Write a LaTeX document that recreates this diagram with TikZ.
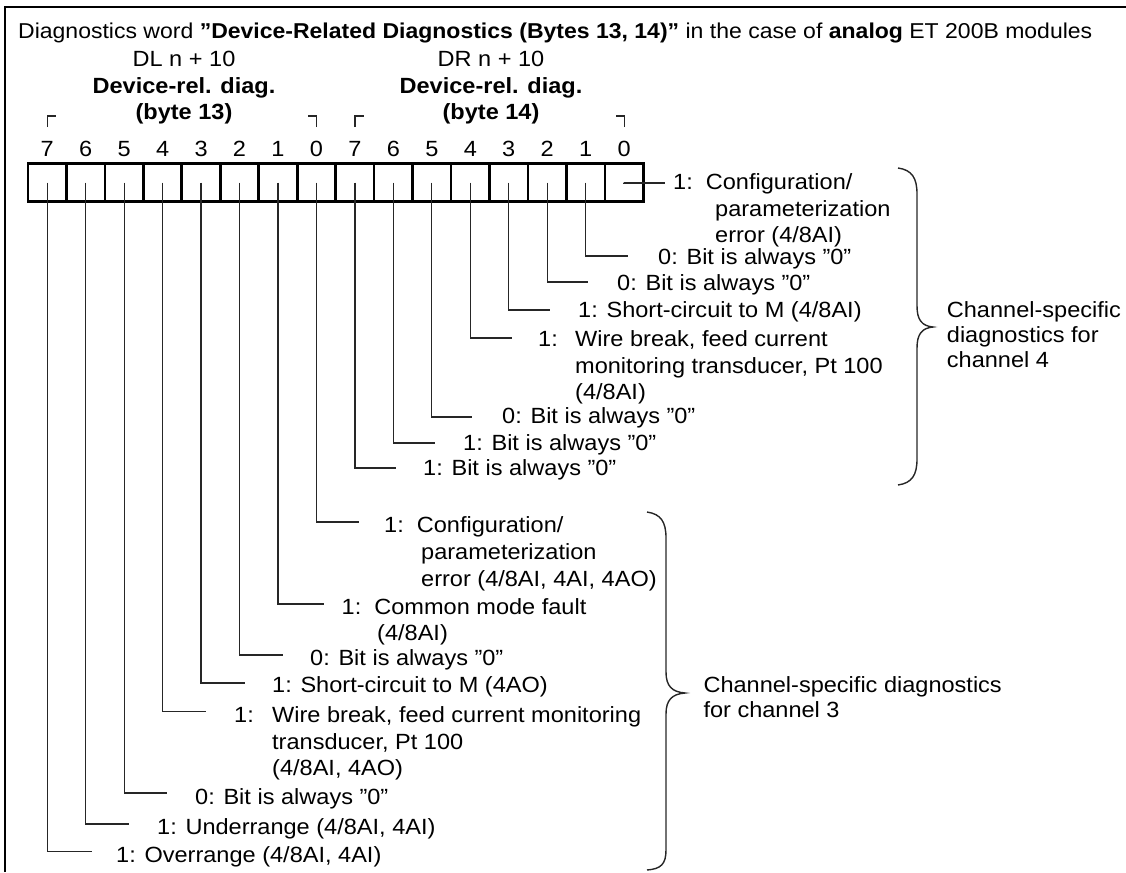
\documentclass[tikz,border=0pt]{standalone}
\usepackage{fontspec}
\setmainfont{Liberation Sans}[FakeStretch=1.07]
\begin{document}
\begin{tikzpicture}[x=1pt,y=-1pt,
  font=\fontsize{22}{26.5}\selectfont,
  bitbox/.style={draw, line width=2.7pt, minimum width=38.46pt, minimum height=38.4pt, inner sep=0pt, outer sep=0pt},
  conn/.style={line width=1.3pt, draw=black!85},
  cornerln/.style={line width=1.3pt, draw=black!85},
  bracepath/.style={line width=1.4pt, draw=black!85},
  lbl/.style={anchor=base west, inner sep=0pt},
  hdr/.style={anchor=base, inner sep=0pt},
  hdrb/.style={anchor=base, inner sep=0pt, font=\fontsize{22}{26.5}\selectfont\bfseries}
]
\useasboundingbox (0,0) rectangle (1126,872);
% frame
\draw[line width=2pt] (5,872) -- (5,7) -- (1126,7);
% title
\node[lbl, font=\fontsize{21.5}{26.5}\selectfont] (title) at (18,38.3) {Diagnostics word \textbf{”Device-Related Diagnostics (Bytes 13, 14)”} in the case of \textbf{analog} ET 200B modules};
% byte headers
\node[hdr]  (dl)  at (184,67)  {DL n + 10};
\node[hdrb] (dl2) at (184,94)  {Device-rel. diag.};
\node[hdrb] (dl3) at (184,120) {(byte 13)};
\node[hdr]  (dr)  at (491,67)  {DR n + 10};
\node[hdrb] (dr2) at (491,94)  {Device-rel. diag.};
\node[hdrb] (dr3) at (491,120) {(byte 14)};
% corner marks
\draw[cornerln] (47.5,127) |- (56,116);
\draw[cornerln] (316.6,127) |- (308.1,116);
\draw[cornerln] (355.1,127) |- (363.6,116);
\draw[cornerln] (624.2,127) |- (615.7,116);
% boxes and bit numbers
\foreach \p/\n in {0/7,1/6,2/5,3/4,4/3,5/2,6/1,7/0,8/7,9/6,10/5,11/4,12/3,13/2,14/1,15/0}{
  \node[bitbox] (b\p) at ({28+38.46*(\p+0.5)},182.5) {};
  \node[hdr] (n\p) at ({28+38.46*(\p+0.5)},156) {\n};
}
% connector end points, byte 14
\coordinate (e15) at (665,183);
\coordinate (e14) at (628,256);
\coordinate (e13) at (588,282);
\coordinate (e12) at (550,310);
\coordinate (e11) at (512,338);
\coordinate (e10) at (472,417);
\coordinate (e9)  at (435,443);
\coordinate (e8)  at (396,468);
% byte 13
\coordinate (e7) at (359,522);
\coordinate (e6) at (324,604);
\coordinate (e5) at (283,655);
\coordinate (e4) at (245,683);
\coordinate (e3) at (206,711.7);
\coordinate (e2) at (167,793);
\coordinate (e1) at (129,824);
\coordinate (e0) at (91.5,851.7);
\foreach \p in {0,...,15}{
  \draw[conn] (b\p.center) |- (e\p);
}
% labels byte 14
\node[lbl] (t15a) at (673,189.7) {1:\ \ Configuration/};
\node[lbl] (t15b) at (715,216.2) {parameterization};
\node[lbl] (t15c) at (715,242.7) {error (4/8AI)};
\node[lbl] (t14) at (658,264.7) {0: Bit is always ”0”};
\node[lbl] (t13) at (617,290.7) {0: Bit is always ”0”};
\node[lbl] (t12) at (578,317.7) {1: Short-circuit to M (4/8AI)};
\node[lbl] (t11a) at (538,346.7) {1:};
\node[lbl] (t11b) at (575,346.7) {Wire break, feed current};
\node[lbl] (t11c) at (575,373.2) {monitoring transducer, Pt 100};
\node[lbl] (t11d) at (575,399.7) {(4/8AI)};
\node[lbl] (t10) at (502,423.7) {0: Bit is always ”0”};
\node[lbl] (t9) at (463,450.7) {1: Bit is always ”0”};
\node[lbl] (t8) at (423,475.7) {1: Bit is always ”0”};
% labels byte 13
\node[lbl] (t7a) at (384,532.7) {1:\ \ Configuration/};
\node[lbl] (t7b) at (421,559.4) {parameterization};
\node[lbl] (t7c) at (421,586) {error (4/8AI, 4AI, 4AO)};
\node[lbl] (t6a) at (341.5,614.4) {1:\ \ Common mode fault};
\node[lbl] (t6b) at (377,640.7) {(4/8AI)};
\node[lbl] (t5) at (310,665.7) {0: Bit is always ”0”};
\node[lbl] (t4) at (272,692.7) {1: Short-circuit to M (4AO)};
\node[lbl] (t3a) at (234,722.7) {1:};
\node[lbl] (t3b) at (272,722.7) {Wire break, feed current monitoring};
\node[lbl] (t3c) at (272,749.4) {transducer, Pt 100};
\node[lbl] (t3d) at (272,775.7) {(4/8AI, 4AO)};
\node[lbl] (t2) at (195,804.4) {0: Bit is always ”0”};
\node[lbl] (t1) at (157,834.4) {1: Underrange (4/8AI, 4AI)};
\node[lbl] (t0) at (116,862.7) {1: Overrange (4/8AI, 4AI)};
% braces
\draw[bracepath] (898,168) .. controls (912,170) and (917,178) .. (917,194) -- (917,306)
  .. controls (917,320) and (922,326) .. (933,327)
  .. controls (922,328) and (917,334) .. (917,348) -- (917,459)
  .. controls (917,475) and (912,483) .. (898,485);
\node[lbl] (c4a) at (946.7,317.7) {Channel-specific};
\node[lbl] (c4b) at (946.7,342.7) {diagnostics for};
\node[lbl] (c4c) at (946.7,367.7) {channel 4};
\draw[bracepath] (647,512) .. controls (661,514) and (666,522) .. (666,538) -- (666,672)
  .. controls (666,686) and (672,692) .. (685,693)
  .. controls (672,694) and (666,700) .. (666,714) -- (666,850)
  .. controls (666,864) and (661,869) .. (647,870);
\node[lbl] (c3a) at (703.3,692.7) {Channel-specific diagnostics};
\node[lbl] (c3b) at (703.3,717.7) {for channel 3};
\end{tikzpicture}
\end{document}
